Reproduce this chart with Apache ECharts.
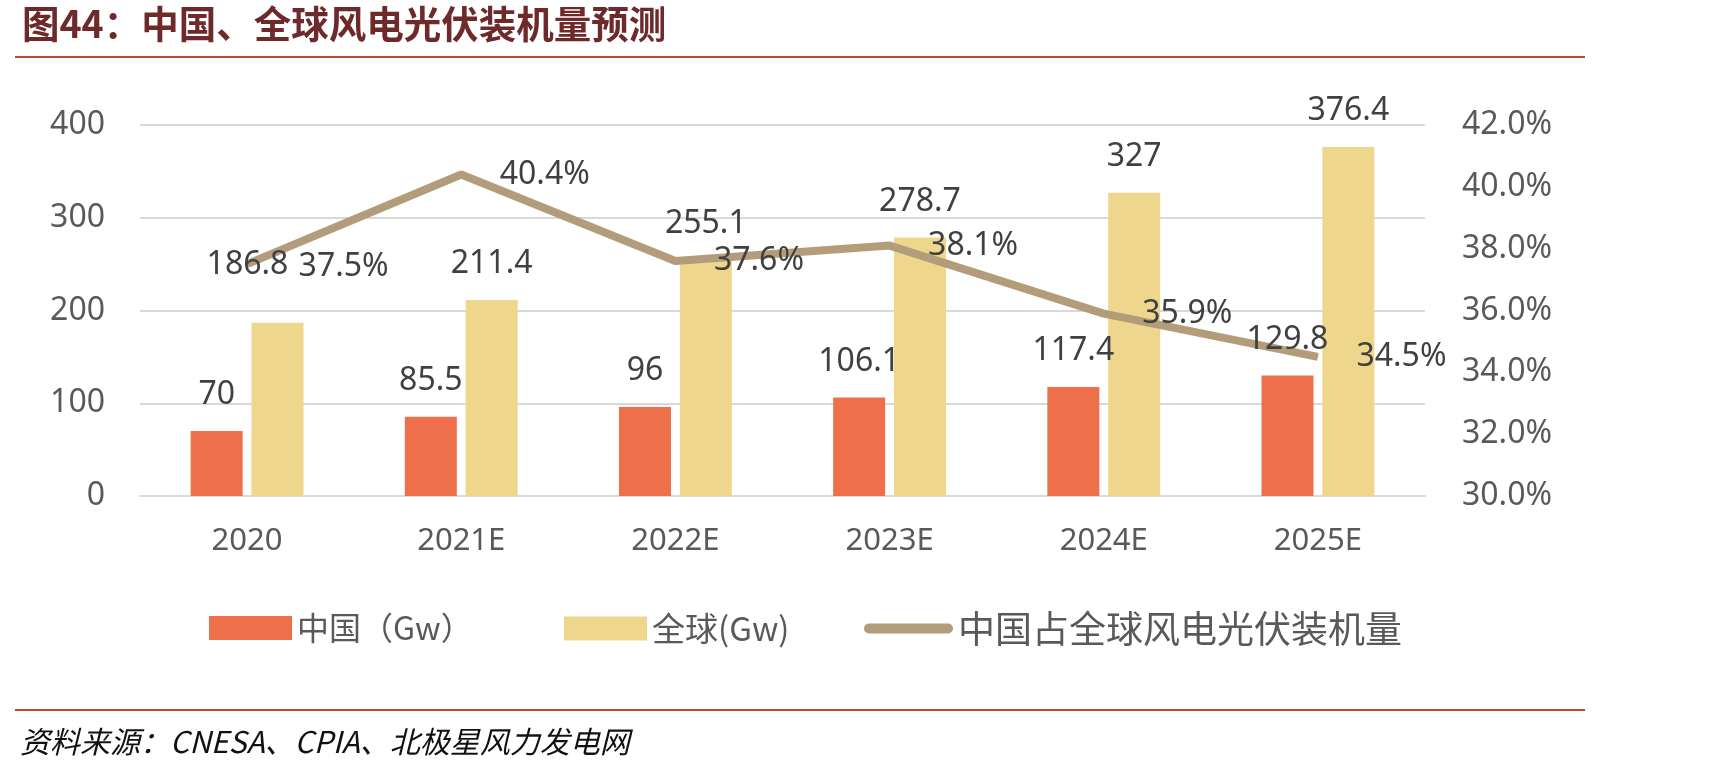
<!DOCTYPE html>
<html>
<head>
<meta charset="utf-8">
<script src="https://cdn.jsdelivr.net/npm/echarts@6/dist/echarts.min.js"></script>
<style>
  html, body { margin: 0; padding: 0; background: #fff; }
  #main { width: 1712px; height: 774px; }
</style>
</head>
<body>
<div id="main"></div>
<script>
// chart data
var years = ['2020', '2021E', '2022E', '2023E', '2024E', '2025E'];
var chinaGw = [70, 85.5, 96, 106.1, 117.4, 129.8];
var globalGw = [186.8, 211.4, 255.1, 278.7, 327, 376.4];
var chinaShare = [37.5, 40.4, 37.6, 38.1, 35.9, 34.5];

var FONT = '"Noto Sans", "Noto Sans CJK SC", sans-serif';
var CJK = '"Noto Sans CJK SC", "Noto Sans", sans-serif';
var RULE = '#BE4B2C';
var BAR_W = 52;
var BAR_SHIFT = 30.4; // half bar + half gap, to put labels over each bar

var labelBase = { show: true, position: 'top', distance: 20, fontFamily: FONT, fontSize: 32, color: '#404040' };

var globalLabelData = globalGw.map(function (v, i) {
  if (i === 0) {
    // this label sits a bit off in the original
    return { value: v, label: { offset: [BAR_SHIFT - 30, -22] } };
  }
  return v;
});

var shareData = chinaShare.map(function (v, i) {
  if (i === 0) {
    return { value: v, label: { offset: [13, 3] } };
  }
  return v;
});

var option = {
  animation: false,
  backgroundColor: '#fff',
  title: [
    {
      text: '图44：中国、全球风电光伏装机量预测',
      left: 22, top: 5, padding: 0,
      textStyle: { fontFamily: CJK, fontSize: 37.5, fontWeight: 'bold', color: '#6E2A2A' }
    },
    {
      text: '资料来源：CNESA、CPIA、北极星风力发电网',
      left: 20, top: 727, padding: 0,
      textStyle: { fontFamily: CJK, fontSize: 30, fontWeight: 'normal', fontStyle: 'italic', color: '#111' }
    }
  ],
  graphic: [
    { type: 'line', shape: { x1: 15, y1: 57, x2: 1585, y2: 57 }, style: { stroke: RULE, lineWidth: 2 } },
    { type: 'line', shape: { x1: 15, y1: 710, x2: 1585, y2: 710 }, style: { stroke: RULE, lineWidth: 2 } }
  ],
  legend: [
    {
      data: [{ name: '中国（Gw）', icon: 'rect' }],
      left: 209, top: 612, padding: 0, itemWidth: 83, itemHeight: 24, itemGap: 0,
      textStyle: { fontFamily: CJK, fontSize: 32, color: '#595959' }
    },
    {
      data: [{ name: '全球(Gw)', icon: 'rect' }],
      left: 564, top: 612, padding: 0, itemWidth: 83, itemHeight: 24, itemGap: 0,
      textStyle: { fontFamily: CJK, fontSize: 33, color: '#595959' }
    },
    {
      data: [{ name: '中国占全球风电光伏装机量', icon: 'path://M5,0 L85,0 A5,5 0 0 1 85,10 L5,10 A5,5 0 0 1 5,0 Z' }],
      left: 864, top: 610, padding: 0, itemWidth: 89, itemHeight: 24, itemGap: 0,
      textStyle: { fontFamily: CJK, fontSize: 37, color: '#595959' }
    }
  ],
  grid: { left: 140, right: 287, top: 125, bottom: 278 },
  xAxis: {
    type: 'category',
    data: years,
    axisLine: { lineStyle: { color: '#D9D9D9', width: 2 } },
    axisTick: { show: false },
    axisLabel: { fontFamily: FONT, fontSize: 31, color: '#595959', margin: 30 }
  },
  yAxis: [
    {
      type: 'value', min: 0, max: 400, interval: 100,
      axisLine: { show: false }, axisTick: { show: false },
      splitLine: { lineStyle: { color: '#D9D9D9', width: 2 } },
      axisLabel: { fontFamily: FONT, fontSize: 32, color: '#595959', margin: 35 }
    },
    {
      type: 'value', min: 30, max: 42, interval: 2,
      axisLine: { show: false }, axisTick: { show: false },
      splitLine: { show: false },
      axisLabel: {
        fontFamily: FONT, fontSize: 32, color: '#595959', margin: 37,
        formatter: function (v) { return v.toFixed(1) + '%'; }
      }
    }
  ],
  series: [
    {
      name: '中国（Gw）',
      type: 'bar',
      data: chinaGw,
      barWidth: BAR_W,
      barGap: '17%',
      z: 2,
      itemStyle: { color: '#EE704B' }
    },
    {
      name: '全球(Gw)',
      type: 'bar',
      data: globalGw,
      barWidth: BAR_W,
      barGap: '17%',
      z: 2,
      itemStyle: { color: '#EED78C' }
    },
    {
      name: '中国占全球风电光伏装机量',
      type: 'line',
      yAxisIndex: 1,
      data: shareData,
      z: 3,
      symbol: 'circle',
      symbolSize: 1,
      showSymbol: true,
      lineStyle: { color: '#B39C7A', width: 8 },
      itemStyle: { color: '#B39C7A' },
      label: {
        show: true, position: 'right', distance: 38,
        fontFamily: FONT, fontSize: 32, color: '#404040',
        formatter: function (p) { return p.value.toFixed(1) + '%'; }
      }
    },
    // value labels for the bars, kept on top of the line
    {
      name: 'chinaLabels',
      type: 'scatter',
      data: chinaGw,
      z: 4, silent: true,
      symbolSize: 0,
      itemStyle: { opacity: 1 },
      label: Object.assign({}, labelBase, { offset: [-BAR_SHIFT, 0] })
    },
    {
      name: 'globalLabels',
      type: 'scatter',
      data: globalLabelData,
      z: 4, silent: true,
      symbolSize: 0,
      itemStyle: { opacity: 1 },
      label: Object.assign({}, labelBase, { offset: [BAR_SHIFT, 0] })
    }
  ]
};

var myChart = echarts.init(document.getElementById('main'));
myChart.setOption(option);
</script>
</body>
</html>
